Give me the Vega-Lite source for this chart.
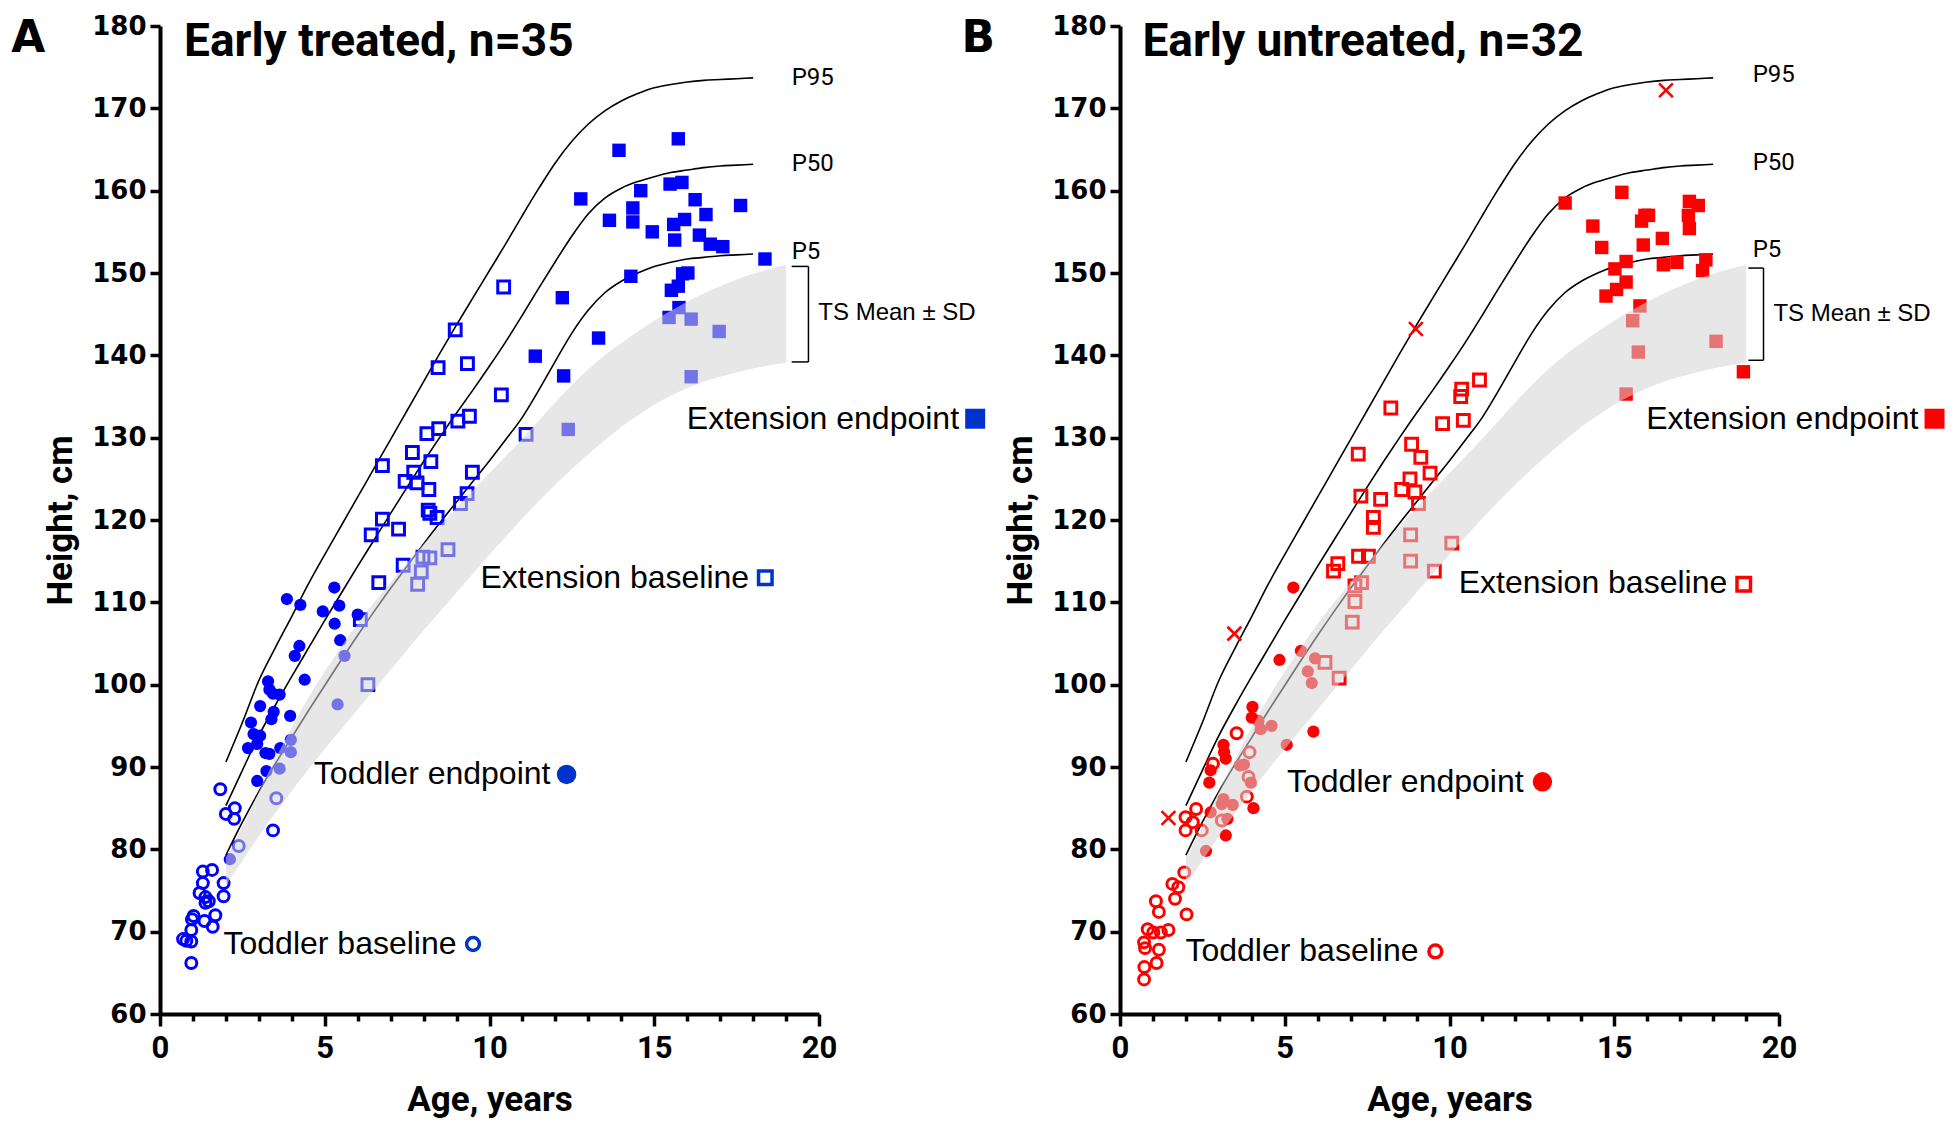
{
"$schema": "https://vega.github.io/schema/vega-lite/v6.json",
"background": "white",
"padding": {"left": 11, "top": 13, "right": 5, "bottom": 5},
"config": {"view": {"stroke": null}},
"spacing": 301,
"bounds": "flush",
"datasets": {
"curves": [
{"p":"P95","a":2,"h":90.6},{"p":"P95","a":2.5,"h":95.4},{"p":"P95","a":3,"h":100.5},{"p":"P95","a":3.5,"h":104.5},{"p":"P95","a":4,"h":108.3},{"p":"P95","a":4.5,"h":112.2},{"p":"P95","a":5,"h":115.8},{"p":"P95","a":5.5,"h":119.3},{"p":"P95","a":6,"h":122.8},{"p":"P95","a":6.5,"h":126.3},{"p":"P95","a":7,"h":129.8},{"p":"P95","a":7.5,"h":133.3},{"p":"P95","a":8,"h":136.8},{"p":"P95","a":8.5,"h":140.3},{"p":"P95","a":9,"h":143.7},{"p":"P95","a":9.5,"h":147.0},{"p":"P95","a":10,"h":150.3},{"p":"P95","a":10.5,"h":153.6},{"p":"P95","a":11,"h":157.0},{"p":"P95","a":11.5,"h":160.3},{"p":"P95","a":12,"h":163.4},{"p":"P95","a":12.5,"h":166.0},{"p":"P95","a":13,"h":168.1},{"p":"P95","a":13.5,"h":169.7},{"p":"P95","a":14,"h":170.9},{"p":"P95","a":14.5,"h":171.8},{"p":"P95","a":15,"h":172.5},{"p":"P95","a":15.5,"h":172.9},{"p":"P95","a":16,"h":173.2},{"p":"P95","a":16.5,"h":173.4},{"p":"P95","a":17,"h":173.5},{"p":"P95","a":17.5,"h":173.6},{"p":"P95","a":18,"h":173.7},
{"p":"P50","a":2,"h":85.3},{"p":"P50","a":2.5,"h":89.6},{"p":"P50","a":3,"h":93.8},{"p":"P50","a":3.5,"h":97.5},{"p":"P50","a":4,"h":101.0},{"p":"P50","a":4.5,"h":104.4},{"p":"P50","a":5,"h":107.8},{"p":"P50","a":5.5,"h":111.1},{"p":"P50","a":6,"h":114.4},{"p":"P50","a":6.5,"h":117.6},{"p":"P50","a":7,"h":120.8},{"p":"P50","a":7.5,"h":124.0},{"p":"P50","a":8,"h":127.1},{"p":"P50","a":8.5,"h":130.1},{"p":"P50","a":9,"h":133.0},{"p":"P50","a":9.5,"h":135.8},{"p":"P50","a":10,"h":138.7},{"p":"P50","a":10.5,"h":141.7},{"p":"P50","a":11,"h":144.9},{"p":"P50","a":11.5,"h":148.2},{"p":"P50","a":12,"h":151.4},{"p":"P50","a":12.5,"h":154.5},{"p":"P50","a":13,"h":157.2},{"p":"P50","a":13.5,"h":159.1},{"p":"P50","a":14,"h":160.3},{"p":"P50","a":14.5,"h":161.1},{"p":"P50","a":15,"h":161.7},{"p":"P50","a":15.5,"h":162.2},{"p":"P50","a":16,"h":162.5},{"p":"P50","a":16.5,"h":162.8},{"p":"P50","a":17,"h":163.0},{"p":"P50","a":17.5,"h":163.1},{"p":"P50","a":18,"h":163.2},
{"p":"P5","a":2,"h":79.3},{"p":"P5","a":2.5,"h":83.3},{"p":"P5","a":3,"h":87.0},{"p":"P5","a":3.5,"h":90.4},{"p":"P5","a":4,"h":93.6},{"p":"P5","a":4.5,"h":96.8},{"p":"P5","a":5,"h":99.9},{"p":"P5","a":5.5,"h":103.0},{"p":"P5","a":6,"h":106.0},{"p":"P5","a":6.5,"h":108.9},{"p":"P5","a":7,"h":111.7},{"p":"P5","a":7.5,"h":114.4},{"p":"P5","a":8,"h":117.1},{"p":"P5","a":8.5,"h":119.7},{"p":"P5","a":9,"h":122.2},{"p":"P5","a":9.5,"h":124.7},{"p":"P5","a":10,"h":127.2},{"p":"P5","a":10.5,"h":129.8},{"p":"P5","a":11,"h":132.5},{"p":"P5","a":11.5,"h":135.8},{"p":"P5","a":12,"h":139.3},{"p":"P5","a":12.5,"h":142.7},{"p":"P5","a":13,"h":145.5},{"p":"P5","a":13.5,"h":147.6},{"p":"P5","a":14,"h":149.0},{"p":"P5","a":14.5,"h":150.0},{"p":"P5","a":15,"h":150.8},{"p":"P5","a":15.5,"h":151.3},{"p":"P5","a":16,"h":151.7},{"p":"P5","a":16.5,"h":151.9},{"p":"P5","a":17,"h":152.1},{"p":"P5","a":17.5,"h":152.2},{"p":"P5","a":18,"h":152.3}
],
"band": [
{"a":2,"lo":75.6,"h":79.0},{"a":2.5,"lo":78.6,"h":82.8},{"a":3,"lo":81.6,"h":87.0},{"a":3.5,"lo":84.4,"h":91.0},{"a":4,"lo":87.1,"h":94.8},{"a":4.5,"lo":89.7,"h":98.4},{"a":5,"lo":92.2,"h":101.6},{"a":5.5,"lo":94.6,"h":104.6},{"a":6,"lo":97.0,"h":107.4},{"a":6.5,"lo":99.4,"h":110.0},{"a":7,"lo":101.8,"h":112.4},{"a":7.5,"lo":104.2,"h":114.8},{"a":8,"lo":106.6,"h":117.1},{"a":8.5,"lo":108.9,"h":119.3},{"a":9,"lo":111.2,"h":121.5},{"a":9.5,"lo":113.5,"h":123.6},{"a":10,"lo":115.8,"h":125.7},{"a":10.5,"lo":118.0,"h":127.8},{"a":11,"lo":120.2,"h":129.9},{"a":11.5,"lo":122.3,"h":132.1},{"a":12,"lo":124.3,"h":134.3},{"a":12.5,"lo":126.2,"h":136.4},{"a":13,"lo":128.0,"h":138.3},{"a":13.5,"lo":129.7,"h":140.0},{"a":14,"lo":131.3,"h":141.5},{"a":14.5,"lo":132.7,"h":142.9},{"a":15,"lo":134.0,"h":144.2},{"a":15.5,"lo":135.1,"h":145.4},{"a":16,"lo":136.0,"h":146.5},{"a":16.5,"lo":136.8,"h":147.5},{"a":17,"lo":137.4,"h":148.4},{"a":17.5,"lo":137.9,"h":149.2},{"a":18,"lo":138.4,"h":149.9},{"a":18.5,"lo":138.8,"h":150.5},{"a":19,"lo":139.1,"h":151.0}
],
"ptsA": [
{"t":"tb","a":1.83,"h":87.3},{"t":"tb","a":2.27,"h":85.0},{"t":"tb","a":2.0,"h":84.3},{"t":"tb","a":2.25,"h":83.7},{"t":"tb","a":3.43,"h":82.3},{"t":"tb","a":3.53,"h":86.2},{"t":"tb","a":2.39,"h":80.4},{"t":"tb","a":1.58,"h":77.5},{"t":"tb","a":1.30,"h":77.3},{"t":"tb","a":1.30,"h":75.9},{"t":"tb","a":1.93,"h":75.9},{"t":"tb","a":1.20,"h":74.7},{"t":"tb","a":1.93,"h":74.3},{"t":"tb","a":1.38,"h":74.2},{"t":"tb","a":1.48,"h":73.7},{"t":"tb","a":1.38,"h":73.5},{"t":"tb","a":1.68,"h":72.0},{"t":"tb","a":1.02,"h":71.9},{"t":"tb","a":1.35,"h":71.3},{"t":"tb","a":0.97,"h":71.5},{"t":"tb","a":1.6,"h":70.6},{"t":"tb","a":0.95,"h":70.2},{"t":"tb","a":0.70,"h":69.1},{"t":"tb","a":0.80,"h":68.9},{"t":"tb","a":0.95,"h":68.8},{"t":"tb","a":0.95,"h":66.2},
{"t":"te","a":3.85,"h":110.4},{"t":"te","a":4.26,"h":109.7},{"t":"te","a":5.29,"h":111.8},{"t":"te","a":5.44,"h":109.6},{"t":"te","a":4.94,"h":108.9},{"t":"te","a":6.0,"h":108.5},{"t":"te","a":5.30,"h":107.4},{"t":"te","a":5.47,"h":105.4},{"t":"te","a":4.23,"h":104.7},{"t":"te","a":4.09,"h":103.5},{"t":"te","a":5.60,"h":103.5},{"t":"te","a":4.39,"h":100.6},{"t":"te","a":3.28,"h":100.4},{"t":"te","a":3.32,"h":99.4},{"t":"te","a":3.43,"h":98.9},{"t":"te","a":3.63,"h":98.8},{"t":"te","a":5.39,"h":97.6},{"t":"te","a":3.04,"h":97.4},{"t":"te","a":3.45,"h":96.7},{"t":"te","a":3.38,"h":95.8},{"t":"te","a":3.95,"h":96.2},{"t":"te","a":2.76,"h":95.4},{"t":"te","a":2.84,"h":94.0},{"t":"te","a":3.04,"h":93.8},{"t":"te","a":2.67,"h":92.3},{"t":"te","a":2.95,"h":92.8},{"t":"te","a":3.2,"h":91.7},{"t":"te","a":3.32,"h":91.6},{"t":"te","a":3.65,"h":92.3},{"t":"te","a":3.63,"h":89.8},{"t":"te","a":3.97,"h":93.3},{"t":"te","a":3.97,"h":91.8},{"t":"te","a":3.23,"h":89.5},{"t":"te","a":2.95,"h":88.3},{"t":"te","a":2.12,"h":78.8},
{"t":"eb","a":10.43,"h":148.3},{"t":"eb","a":8.96,"h":143.1},{"t":"eb","a":8.44,"h":138.5},{"t":"eb","a":9.33,"h":139.0},{"t":"eb","a":10.36,"h":135.2},{"t":"eb","a":9.39,"h":132.6},{"t":"eb","a":9.04,"h":132.0},{"t":"eb","a":8.46,"h":131.1},{"t":"eb","a":8.10,"h":130.5},{"t":"eb","a":11.11,"h":130.4},{"t":"eb","a":6.75,"h":126.6},{"t":"eb","a":7.66,"h":128.2},{"t":"eb","a":8.22,"h":127.1},{"t":"eb","a":7.70,"h":125.8},{"t":"eb","a":7.44,"h":124.7},{"t":"eb","a":7.80,"h":124.5},{"t":"eb","a":8.16,"h":123.7},{"t":"eb","a":9.48,"h":125.8},{"t":"eb","a":9.32,"h":123.2},{"t":"eb","a":9.12,"h":122.0},{"t":"eb","a":8.14,"h":121.2},{"t":"eb","a":8.19,"h":120.8},{"t":"eb","a":8.41,"h":120.3},{"t":"eb","a":6.75,"h":120.1},{"t":"eb","a":6.41,"h":118.2},{"t":"eb","a":7.24,"h":118.9},{"t":"eb","a":8.74,"h":116.4},{"t":"eb","a":8.19,"h":115.4},{"t":"eb","a":7.98,"h":115.5},{"t":"eb","a":7.38,"h":114.5},{"t":"eb","a":7.93,"h":113.7},{"t":"eb","a":7.82,"h":112.2},{"t":"eb","a":6.64,"h":112.4},{"t":"eb","a":6.08,"h":107.9},{"t":"eb","a":6.31,"h":100.0},
{"t":"ee","a":15.73,"h":166.3},{"t":"ee","a":13.93,"h":164.9},{"t":"ee","a":12.77,"h":159.0},{"t":"ee","a":14.59,"h":160.0},{"t":"ee","a":15.48,"h":160.8},{"t":"ee","a":15.84,"h":161.0},{"t":"ee","a":14.35,"h":157.9},{"t":"ee","a":16.24,"h":158.9},{"t":"ee","a":17.62,"h":158.2},{"t":"ee","a":13.64,"h":156.4},{"t":"ee","a":14.35,"h":156.2},{"t":"ee","a":15.59,"h":155.9},{"t":"ee","a":15.92,"h":156.5},{"t":"ee","a":16.57,"h":157.1},{"t":"ee","a":14.94,"h":155.0},{"t":"ee","a":15.62,"h":154.0},{"t":"ee","a":16.37,"h":154.6},{"t":"ee","a":16.70,"h":153.5},{"t":"ee","a":17.08,"h":153.2},{"t":"ee","a":18.36,"h":151.7},{"t":"ee","a":14.29,"h":149.6},{"t":"ee","a":15.86,"h":149.9},{"t":"ee","a":16.02,"h":150.0},{"t":"ee","a":15.73,"h":148.4},{"t":"ee","a":15.52,"h":147.9},{"t":"ee","a":15.75,"h":145.8},{"t":"ee","a":15.45,"h":144.6},{"t":"ee","a":16.12,"h":144.4},{"t":"ee","a":16.97,"h":142.9},{"t":"ee","a":16.12,"h":137.4},{"t":"ee","a":12.21,"h":147.0},{"t":"ee","a":13.31,"h":142.1},{"t":"ee","a":11.39,"h":139.9},{"t":"ee","a":12.25,"h":137.5},{"t":"ee","a":12.39,"h":131.0}
],
"ptsB": [
{"t":"tb","a":1.99,"h":83.9},{"t":"tb","a":2.31,"h":84.9},{"t":"tb","a":2.21,"h":83.3},{"t":"tb","a":1.99,"h":82.3},{"t":"tb","a":2.48,"h":82.3},{"t":"tb","a":1.95,"h":77.2},{"t":"tb","a":1.59,"h":75.8},{"t":"tb","a":1.77,"h":75.4},{"t":"tb","a":1.67,"h":74.0},{"t":"tb","a":1.09,"h":73.7},{"t":"tb","a":1.18,"h":72.4},{"t":"tb","a":2.02,"h":72.1},{"t":"tb","a":0.84,"h":70.3},{"t":"tb","a":1.01,"h":69.9},{"t":"tb","a":1.24,"h":69.9},{"t":"tb","a":1.47,"h":70.2},{"t":"tb","a":0.73,"h":68.7},{"t":"tb","a":0.76,"h":68.0},{"t":"tb","a":1.18,"h":67.8},{"t":"tb","a":0.74,"h":65.7},{"t":"tb","a":1.11,"h":66.2},{"t":"tb","a":0.73,"h":64.2},{"t":"tb","a":3.54,"h":94.1},{"t":"tb","a":2.82,"h":90.4},{"t":"tb","a":3.93,"h":91.8},{"t":"tb","a":3.90,"h":88.8},{"t":"tb","a":3.85,"h":86.4},{"t":"tb","a":3.09,"h":83.5},
{"t":"te","a":5.26,"h":111.8},{"t":"te","a":4.84,"h":103.0},{"t":"te","a":5.49,"h":104.1},{"t":"te","a":5.92,"h":103.2},{"t":"te","a":5.70,"h":101.6},{"t":"te","a":5.82,"h":100.2},{"t":"te","a":4.02,"h":97.3},{"t":"te","a":4.0,"h":96.0},{"t":"te","a":4.2,"h":95.6},{"t":"te","a":4.27,"h":94.6},{"t":"te","a":4.6,"h":95.0},{"t":"te","a":5.87,"h":94.3},{"t":"te","a":5.06,"h":92.7},{"t":"te","a":3.14,"h":92.7},{"t":"te","a":3.16,"h":91.8},{"t":"te","a":3.21,"h":91.0},{"t":"te","a":2.75,"h":89.6},{"t":"te","a":2.71,"h":88.1},{"t":"te","a":3.64,"h":90.2},{"t":"te","a":3.76,"h":90.3},{"t":"te","a":3.97,"h":88.1},{"t":"te","a":4.05,"h":85.0},{"t":"te","a":3.14,"h":86.1},{"t":"te","a":3.09,"h":85.5},{"t":"te","a":3.42,"h":85.4},{"t":"te","a":2.75,"h":84.5},{"t":"te","a":3.26,"h":83.7},{"t":"te","a":3.21,"h":81.7},{"t":"te","a":2.61,"h":79.8},
{"t":"eb","a":10.91,"h":137.0},{"t":"eb","a":10.37,"h":135.9},{"t":"eb","a":10.34,"h":135.0},{"t":"eb","a":8.22,"h":133.6},{"t":"eb","a":9.79,"h":131.7},{"t":"eb","a":10.42,"h":132.1},{"t":"eb","a":7.23,"h":128.0},{"t":"eb","a":8.85,"h":129.2},{"t":"eb","a":9.13,"h":127.6},{"t":"eb","a":9.41,"h":125.7},{"t":"eb","a":8.80,"h":125.0},{"t":"eb","a":8.55,"h":123.7},{"t":"eb","a":8.95,"h":123.4},{"t":"eb","a":9.06,"h":122.0},{"t":"eb","a":7.31,"h":122.9},{"t":"eb","a":7.91,"h":122.5},{"t":"eb","a":7.69,"h":120.3},{"t":"eb","a":7.69,"h":119.1},{"t":"eb","a":8.82,"h":118.2},{"t":"eb","a":10.07,"h":117.2},{"t":"eb","a":7.24,"h":115.6},{"t":"eb","a":7.54,"h":115.6},{"t":"eb","a":8.82,"h":115.0},{"t":"eb","a":9.54,"h":113.8},{"t":"eb","a":6.61,"h":114.7},{"t":"eb","a":6.48,"h":113.8},{"t":"eb","a":7.33,"h":112.4},{"t":"eb","a":7.13,"h":112.0},{"t":"eb","a":7.13,"h":110.1},{"t":"eb","a":7.05,"h":107.6},{"t":"eb","a":6.22,"h":102.7},{"t":"eb","a":6.65,"h":100.8},
{"t":"ee","a":15.23,"h":159.8},{"t":"ee","a":13.51,"h":158.5},{"t":"ee","a":14.35,"h":155.7},{"t":"ee","a":15.93,"h":157.0},{"t":"ee","a":16.04,"h":157.0},{"t":"ee","a":15.83,"h":156.3},{"t":"ee","a":17.28,"h":158.7},{"t":"ee","a":17.25,"h":157.0},{"t":"ee","a":17.28,"h":155.4},{"t":"ee","a":14.62,"h":153.1},{"t":"ee","a":15.88,"h":153.4},{"t":"ee","a":16.46,"h":154.2},{"t":"ee","a":15.36,"h":151.4},{"t":"ee","a":15.02,"h":150.5},{"t":"ee","a":16.49,"h":151.0},{"t":"ee","a":16.9,"h":151.3},{"t":"ee","a":15.36,"h":148.9},{"t":"ee","a":15.07,"h":148.0},{"t":"ee","a":14.75,"h":147.2},{"t":"ee","a":15.78,"h":146.0},{"t":"ee","a":15.56,"h":144.2},{"t":"ee","a":15.73,"h":140.4},{"t":"ee","a":15.36,"h":135.3},{"t":"ee","a":17.55,"h":158.2},{"t":"ee","a":17.78,"h":151.6},{"t":"ee","a":17.68,"h":150.3},{"t":"ee","a":18.09,"h":141.7},{"t":"ee","a":18.92,"h":138.0},
{"t":"x","a":1.47,"h":83.8},{"t":"x","a":3.47,"h":106.2},{"t":"x","a":8.98,"h":143.2},{"t":"x","a":16.57,"h":172.2}
],
"txtA": [
{"k":"ann","a":24.25,"h":132.3,"s":"Extension endpoint"},{"k":"ann","a":17.88,"h":113.0,"s":"Extension baseline"},{"k":"ann","a":11.85,"h":89.1,"s":"Toddler endpoint"},{"k":"ann","a":9.0,"h":68.5,"s":"Toddler baseline"},
{"k":"pl","a":19.17,"h":173.7,"s":"P95"},{"k":"pl","a":19.17,"h":163.2,"s":"P50"},{"k":"pl","a":19.17,"h":152.6,"s":"P5"},
{"k":"ts","a":19.98,"h":145.1,"s":"TS Mean ± SD"},
{"k":"title","a":0.73,"h":176.3,"s":"Early treated, n=35"},
{"k":"letter","a":-4.0,"h":178.4,"s":"A"}
],
"txtB": [
{"k":"ann","a":24.23,"h":132.3,"s":"Extension endpoint"},{"k":"ann","a":18.43,"h":112.4,"s":"Extension baseline"},{"k":"ann","a":12.25,"h":88.2,"s":"Toddler endpoint"},{"k":"ann","a":9.06,"h":67.6,"s":"Toddler baseline"},
{"k":"pl","a":19.2,"h":174.0,"s":"P95"},{"k":"pl","a":19.2,"h":163.4,"s":"P50"},{"k":"pl","a":19.2,"h":152.8,"s":"P5"},
{"k":"ts","a":19.83,"h":145.05,"s":"TS Mean ± SD"},
{"k":"title","a":0.68,"h":176.3,"s":"Early untreated, n=32"},
{"k":"letter","a":-4.3,"h":178.4,"s":"B"}
],
"legA": [{"t":"ee","a":24.74,"h":132.3},{"t":"eb","a":18.37,"h":113.0},{"t":"te","a":12.34,"h":89.1},{"t":"tb","a":9.5,"h":68.5}],
"legB": [{"t":"ee","a":24.72,"h":132.3},{"t":"eb","a":18.93,"h":112.2},{"t":"te","a":12.82,"h":88.2},{"t":"tb","a":9.57,"h":67.6}],
"brA": [{"a":19.17,"a2":19.68,"h":150.8,"h2":150.8},{"a":19.68,"a2":19.68,"h":139.2,"h2":150.8},{"a":19.17,"a2":19.68,"h":139.2,"h2":139.2}],
"brB": [{"a":19.07,"a2":19.53,"h":150.6,"h2":150.6},{"a":19.53,"a2":19.53,"h":139.4,"h2":150.6},{"a":19.07,"a2":19.53,"h":139.4,"h2":139.4}]
},
"hconcat": [
{
"width": 659, "height": 988,
"encoding": {
  "x":{"field":"a","type":"quantitative","scale":{"domain":[0,20],"nice":false},"axis":{"title":"Age, years","values":[0,1,2,3,4,5,6,7,8,9,10,11,12,13,14,15,16,17,18,19,20],"labelExpr":"datum.value % 5 === 0 ? datum.label : ''","grid":false,"domainColor":"black","domainWidth":4,"tickColor":"black","tickWidth":3.5,"tickSize":{"condition":{"test":"datum.value % 5 === 0","value":12},"value":7},"labelFont":"Roboto","labelFontWeight":"bold","labelFontSize":31,"labelColor":"black","labelPadding":7,"labelFlush":false,"labelOverlap":false,"labelBound":false,"titleFont":"Roboto","titleFontWeight":"bold","titleFontSize":35,"titleColor":"black","titlePadding":19}},
  "y":{"field":"h","type":"quantitative","scale":{"domain":[60,180],"nice":false},"axis":{"title":"Height, cm","values":[60,70,80,90,100,110,120,130,140,150,160,170,180],"grid":false,"domainColor":"black","domainWidth":4,"tickColor":"black","tickWidth":3.5,"tickSize":10,"labelFont":"DejaVu Sans","labelFontWeight":"bold","labelFontSize":26,"labelColor":"black","labelPadding":4,"labelFlush":false,"labelOverlap":false,"titleFont":"Roboto","titleFontWeight":"bold","titleFontSize":35,"titleColor":"black","titlePadding":13}}
},
"layer": [
{"data":{"name":"curves"},"mark":{"type":"line","color":"black","strokeWidth":1.6,"interpolate":"monotone"},"encoding":{"detail":{"field":"p"}}},
{"data":{"name":"ptsA"},"transform":[{"filter":"datum.t==='tb'"}],"mark":{"type":"point","shape":"circle","filled":false,"color":"#0000ff","strokeWidth":3,"size":120,"opacity":1}},
{"data":{"name":"ptsA"},"transform":[{"filter":"datum.t==='te'"}],"mark":{"type":"point","shape":"circle","filled":true,"color":"#0000ff","size":150,"opacity":1}},
{"data":{"name":"ptsA"},"transform":[{"filter":"datum.t==='eb'"}],"mark":{"type":"point","shape":"square","filled":false,"color":"#0000ff","strokeWidth":3,"size":140,"opacity":1}},
{"data":{"name":"ptsA"},"transform":[{"filter":"datum.t==='ee'"}],"mark":{"type":"point","shape":"square","filled":true,"color":"#0000ff","size":180,"opacity":1}},
{"data":{"name":"band"},"mark":{"type":"area","color":"#d4d4d4","opacity":0.55,"interpolate":"monotone"},"encoding":{"y2":{"field":"lo"}}},
{"data":{"name":"brA"},"mark":{"type":"rule","color":"black","strokeWidth":1.5},"encoding":{"x2":{"field":"a2"},"y2":{"field":"h2"}}},
{"data":{"name":"txtA"},"transform":[{"filter":"datum.k==='ann'"}],"mark":{"type":"text","align":"right","baseline":"middle","font":"Liberation Sans","fontSize":32,"color":"black"},"encoding":{"text":{"field":"s"}}},
{"data":{"name":"txtA"},"transform":[{"filter":"datum.k==='pl'"}],"mark":{"type":"text","align":"left","baseline":"middle","font":"Roboto","fontSize":24,"color":"black"},"encoding":{"text":{"field":"s"}}},
{"data":{"name":"txtA"},"transform":[{"filter":"datum.k==='ts'"}],"mark":{"type":"text","align":"left","baseline":"middle","font":"Liberation Sans","fontSize":24,"color":"black"},"encoding":{"text":{"field":"s"}}},
{"data":{"name":"txtA"},"transform":[{"filter":"datum.k==='title'"}],"mark":{"type":"text","align":"left","baseline":"alphabetic","font":"Roboto","fontWeight":"bold","fontSize":46,"color":"black"},"encoding":{"text":{"field":"s"}}},
{"data":{"name":"txtA"},"transform":[{"filter":"datum.k==='letter'"}],"mark":{"type":"text","align":"center","baseline":"middle","font":"DejaVu Sans","fontWeight":"bold","fontSize":44,"color":"black"},"encoding":{"text":{"field":"s"}}},
{"data":{"name":"legA"},"transform":[{"filter":"datum.t==='ee'"}],"mark":{"type":"point","shape":"square","filled":true,"color":"#0033cc","size":400,"opacity":1}},
{"data":{"name":"legA"},"transform":[{"filter":"datum.t==='eb'"}],"mark":{"type":"point","shape":"square","filled":false,"color":"#0033cc","strokeWidth":3.5,"size":182,"opacity":1}},
{"data":{"name":"legA"},"transform":[{"filter":"datum.t==='te'"}],"mark":{"type":"point","shape":"circle","filled":true,"color":"#0033cc","size":380,"opacity":1}},
{"data":{"name":"legA"},"transform":[{"filter":"datum.t==='tb'"}],"mark":{"type":"point","shape":"circle","filled":false,"color":"#0033cc","strokeWidth":3.5,"size":165,"opacity":1}}
]
},
{
"width": 659, "height": 988,
"encoding": {
  "x":{"field":"a","type":"quantitative","scale":{"domain":[0,20],"nice":false},"axis":{"title":"Age, years","values":[0,1,2,3,4,5,6,7,8,9,10,11,12,13,14,15,16,17,18,19,20],"labelExpr":"datum.value % 5 === 0 ? datum.label : ''","grid":false,"domainColor":"black","domainWidth":4,"tickColor":"black","tickWidth":3.5,"tickSize":{"condition":{"test":"datum.value % 5 === 0","value":12},"value":7},"labelFont":"Roboto","labelFontWeight":"bold","labelFontSize":31,"labelColor":"black","labelPadding":7,"labelFlush":false,"labelOverlap":false,"labelBound":false,"titleFont":"Roboto","titleFontWeight":"bold","titleFontSize":35,"titleColor":"black","titlePadding":19}},
  "y":{"field":"h","type":"quantitative","scale":{"domain":[60,180],"nice":false},"axis":{"title":"Height, cm","values":[60,70,80,90,100,110,120,130,140,150,160,170,180],"grid":false,"domainColor":"black","domainWidth":4,"tickColor":"black","tickWidth":3.5,"tickSize":10,"labelFont":"DejaVu Sans","labelFontWeight":"bold","labelFontSize":26,"labelColor":"black","labelPadding":4,"labelFlush":false,"labelOverlap":false,"titleFont":"Roboto","titleFontWeight":"bold","titleFontSize":35,"titleColor":"black","titlePadding":13}}
},
"layer": [
{"data":{"name":"curves"},"mark":{"type":"line","color":"black","strokeWidth":1.6,"interpolate":"monotone"},"encoding":{"detail":{"field":"p"}}},
{"data":{"name":"ptsB"},"transform":[{"filter":"datum.t==='tb'"}],"mark":{"type":"point","shape":"circle","filled":false,"color":"#ff0000","strokeWidth":3,"size":120,"opacity":1}},
{"data":{"name":"ptsB"},"transform":[{"filter":"datum.t==='te'"}],"mark":{"type":"point","shape":"circle","filled":true,"color":"#ff0000","size":150,"opacity":1}},
{"data":{"name":"ptsB"},"transform":[{"filter":"datum.t==='eb'"}],"mark":{"type":"point","shape":"square","filled":false,"color":"#ff0000","strokeWidth":3,"size":140,"opacity":1}},
{"data":{"name":"ptsB"},"transform":[{"filter":"datum.t==='ee'"}],"mark":{"type":"point","shape":"square","filled":true,"color":"#ff0000","size":180,"opacity":1}},
{"data":{"name":"ptsB"},"transform":[{"filter":"datum.t==='x'"}],"mark":{"type":"point","shape":"M-1,-1L1,1M-1,1L1,-1","filled":false,"color":"#ff0000","strokeWidth":2.6,"size":190,"opacity":1}},
{"data":{"name":"band"},"mark":{"type":"area","color":"#d4d4d4","opacity":0.55,"interpolate":"monotone"},"encoding":{"y2":{"field":"lo"}}},
{"data":{"name":"brB"},"mark":{"type":"rule","color":"black","strokeWidth":1.5},"encoding":{"x2":{"field":"a2"},"y2":{"field":"h2"}}},
{"data":{"name":"txtB"},"transform":[{"filter":"datum.k==='ann'"}],"mark":{"type":"text","align":"right","baseline":"middle","font":"Liberation Sans","fontSize":32,"color":"black"},"encoding":{"text":{"field":"s"}}},
{"data":{"name":"txtB"},"transform":[{"filter":"datum.k==='pl'"}],"mark":{"type":"text","align":"left","baseline":"middle","font":"Roboto","fontSize":24,"color":"black"},"encoding":{"text":{"field":"s"}}},
{"data":{"name":"txtB"},"transform":[{"filter":"datum.k==='ts'"}],"mark":{"type":"text","align":"left","baseline":"middle","font":"Liberation Sans","fontSize":24,"color":"black"},"encoding":{"text":{"field":"s"}}},
{"data":{"name":"txtB"},"transform":[{"filter":"datum.k==='title'"}],"mark":{"type":"text","align":"left","baseline":"alphabetic","font":"Roboto","fontWeight":"bold","fontSize":46,"color":"black"},"encoding":{"text":{"field":"s"}}},
{"data":{"name":"txtB"},"transform":[{"filter":"datum.k==='letter'"}],"mark":{"type":"text","align":"center","baseline":"middle","font":"DejaVu Sans","fontWeight":"bold","fontSize":44,"color":"black"},"encoding":{"text":{"field":"s"}}},
{"data":{"name":"legB"},"transform":[{"filter":"datum.t==='ee'"}],"mark":{"type":"point","shape":"square","filled":true,"color":"#ff0000","size":400,"opacity":1}},
{"data":{"name":"legB"},"transform":[{"filter":"datum.t==='eb'"}],"mark":{"type":"point","shape":"square","filled":false,"color":"#ff0000","strokeWidth":3.5,"size":182,"opacity":1}},
{"data":{"name":"legB"},"transform":[{"filter":"datum.t==='te'"}],"mark":{"type":"point","shape":"circle","filled":true,"color":"#ff0000","size":380,"opacity":1}},
{"data":{"name":"legB"},"transform":[{"filter":"datum.t==='tb'"}],"mark":{"type":"point","shape":"circle","filled":false,"color":"#ff0000","strokeWidth":3.5,"size":165,"opacity":1}}
]
}
]
}
